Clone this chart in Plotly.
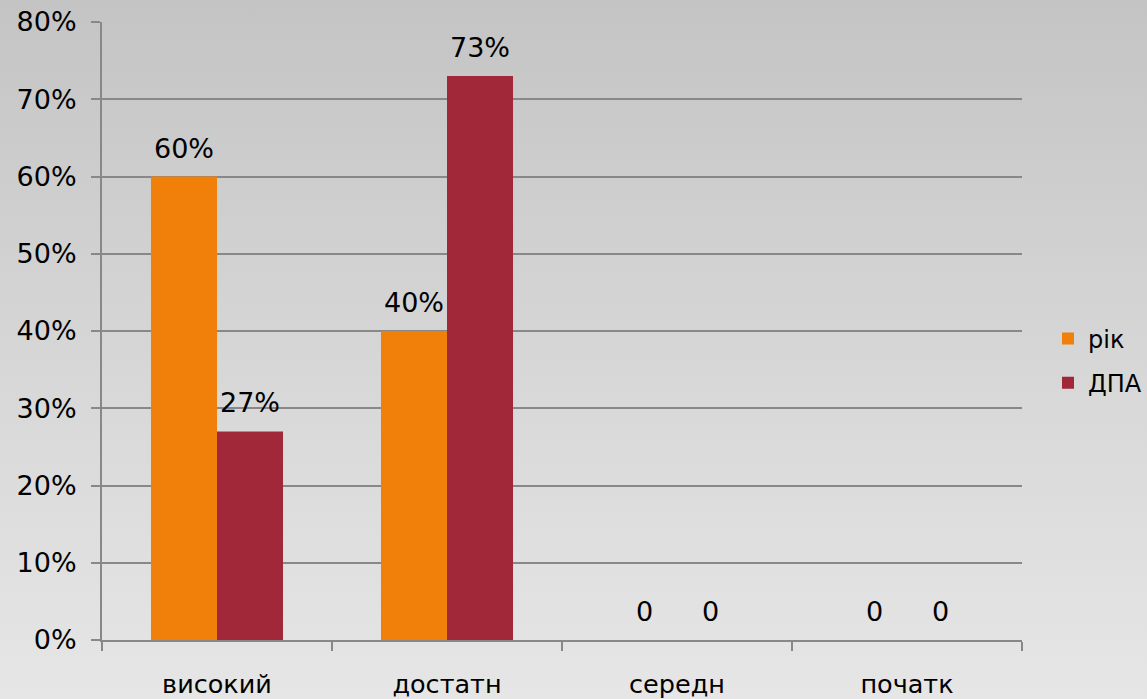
import plotly.graph_objects as go

categories = ["високий", "достатн", "середн", "початк"]
series_names = ["рік", "ДПА"]
rik_values = [0.60, 0.40, 0.0, 0.0]
dpa_values = [0.27, 0.73, 0.0, 0.0]
series_values = [rik_values, dpa_values]
series_colors = ["#F0800A", "#A02838"]
y_tick_vals = [0, 0.1, 0.2, 0.3, 0.4, 0.5, 0.6, 0.7, 0.8]
y_tick_text = ["0%", "10%", "20%", "30%", "40%", "50%", "60%", "70%", "80%"]

W, H = 1147, 699
FONT = "DejaVu Sans"
FS = 27
GRID = "#888888"

def label(v):
    return "0" if v == 0 else f"{round(v * 100)}%"

fig = go.Figure()

# background gradient (paper-spanning hidden subplot)
fig.add_trace(go.Scatter(
    x=[0, 1, 1, 0, 0], y=[0, 0, 1, 1, 0], mode="lines", fill="toself",
    line=dict(width=0), fillgradient=dict(type="vertical",
    colorscale=[[0, "#e6e6e6"], [0.5, "#d6d6d6"], [1, "#c4c4c4"]]),
    xaxis="x", yaxis="y", showlegend=False, hoverinfo="skip"))

for name, vals, col in zip(series_names, series_values, series_colors):
    fig.add_trace(go.Bar(
        x=categories, y=vals, name=name, marker=dict(color=col, line=dict(width=0)),
        xaxis="x2", yaxis="y2", legendgroup=name, hoverinfo="skip"))

annotations = []
for i, vals in enumerate(series_values):
    shift = -33 if i == 0 else 33
    for c, v in zip(categories, vals):
        annotations.append(dict(
            x=c, y=v, xref="x2", yref="y2", text=label(v), showarrow=False,
            xanchor="center", yanchor="bottom", xshift=shift, yshift=11,
            font=dict(family=FONT, size=FS, color="#000000")))

fig.update_layout(
    template="none",
    width=W, height=H, autosize=False,
    margin=dict(l=0, r=0, t=0, b=0, pad=0, autoexpand=False),
    paper_bgcolor="#d4d4d4",
    plot_bgcolor="rgba(0,0,0,0)",
    barmode="group", bargap=0.426, bargroupgap=0,
    font=dict(family=FONT, size=FS, color="#000000"),
    xaxis=dict(domain=[0, 1], range=[0, 1], visible=False, fixedrange=True,
               automargin=False),
    yaxis=dict(domain=[0, 1], range=[0, 1], visible=False, fixedrange=True,
               automargin=False),
    xaxis2=dict(domain=[102 / W, 1022 / W], anchor="y2", type="category",
                automargin=False,
                showline=True, linecolor=GRID, linewidth=2,
                ticks="outside", tickson="boundaries", ticklen=9, tickcolor=GRID,
                tickwidth=2, showgrid=False, ticklabelstandoff=20,
                tickfont=dict(family=FONT, size=25.5, color="#000000")),
    yaxis2=dict(domain=[(H - 640) / H, (H - 22) / H], anchor="x2", range=[0, 0.8],
                automargin=False,
                tickvals=y_tick_vals, ticktext=y_tick_text,
                showline=True, linecolor=GRID, linewidth=2,
                ticks="outside", ticklen=9, tickcolor=GRID, tickwidth=2,
                showgrid=True, gridcolor=GRID, gridwidth=2, zeroline=False,
                ticklabelstandoff=9,
                tickfont=dict(family=FONT, size=FS, color="#000000")),
    legend=dict(x=1048 / W, y=1 - 361 / H, xanchor="left", yanchor="middle",
                bgcolor="rgba(0,0,0,0)", borderwidth=0, tracegroupgap=10,
                itemwidth=30,
                font=dict(family=FONT, size=24, color="#000000")),
    annotations=annotations,
)

fig.write_html(
    "out.html",
    config={"displayModeBar": False},
    post_script="document.body.style.margin='0';document.body.style.background='#d4d4d4';",
)
